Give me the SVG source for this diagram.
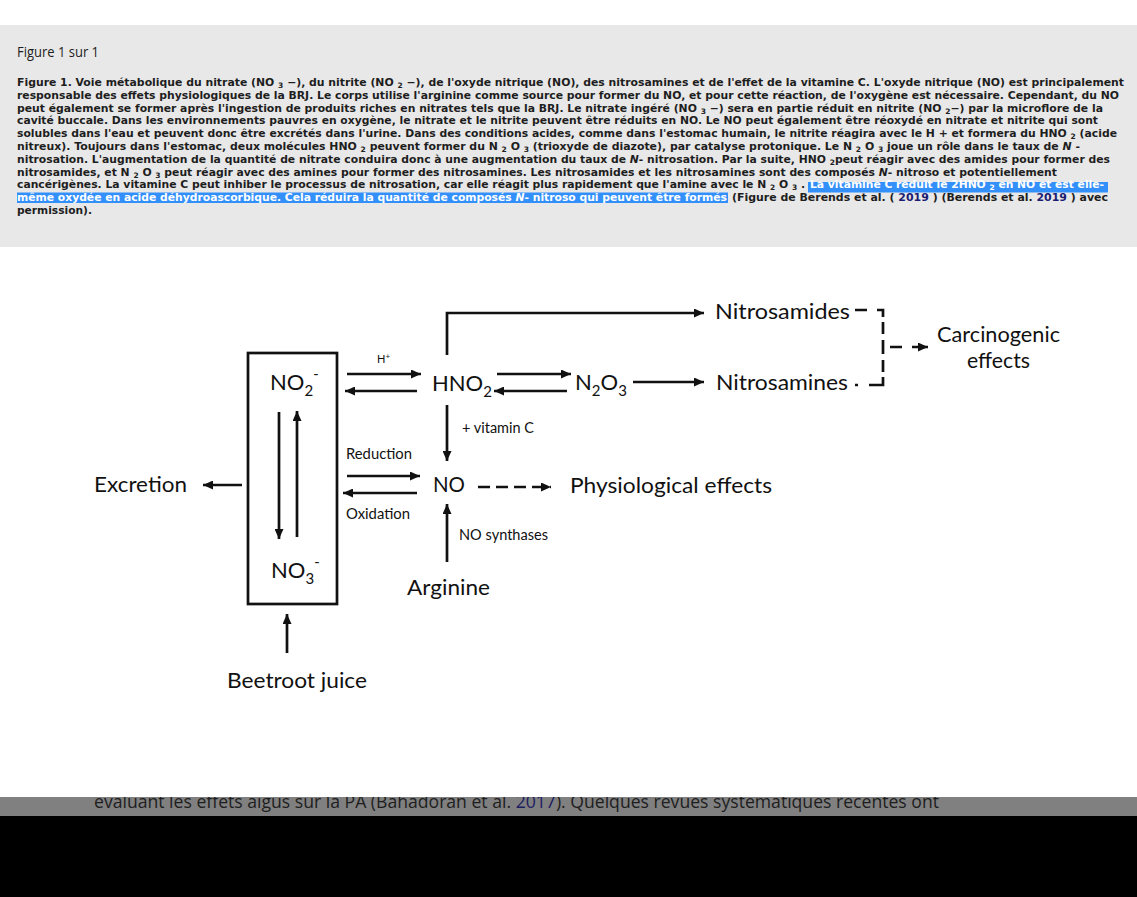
<svg xmlns="http://www.w3.org/2000/svg" width="1137" height="897" viewBox="0 0 1137 897">
<style>
.cap{font-family:"DejaVu Sans",Verdana,sans-serif;font-weight:bold;font-size:10.8px;fill:#1e1e1e}
.s{font-size:7.5px}
.hl{fill:#ffffff}
.blue{fill:#1c1c72}
.ttl{font-family:"Open Sans","Liberation Sans",sans-serif;font-size:14px;fill:#1e1e1e}
.lbl{font-family:Lato,"Open Sans",sans-serif;font-size:22px;fill:#111}
.sub{font-size:15px}
.sm{font-size:14.5px}
.tiny{font-size:11px}
.ln{stroke:#111;stroke-width:2.7;fill:none}
.dash{stroke-dasharray:12 6}
.band{font-family:"Open Sans","Liberation Sans",sans-serif;font-size:19px;fill:#1e1e1e}
</style>
<defs>
<marker id="ah" markerUnits="userSpaceOnUse" markerWidth="11" markerHeight="9" refX="10" refY="4.5" orient="auto">
<path d="M0,0 L10,4.5 L0,9 z" fill="#111"/>
</marker>
</defs>
<rect x="0" y="0" width="1137" height="897" fill="#ffffff"/>
<rect x="0" y="797" width="1137" height="19" fill="#808080"/>
<text class="band" x="94" y="808" textLength="845" lengthAdjust="spacingAndGlyphs">évaluant les effets aigus sur la PA (Bahadoran et al. <tspan fill="#1c1c60">2017</tspan>). Quelques revues systématiques récentes ont</text>
<rect x="0" y="816" width="1137" height="81" fill="#000000"/>
<rect x="0" y="247" width="1137" height="550" fill="#ffffff"/>
<g id="caption-panel">
<rect x="0" y="25" width="1137" height="222" fill="#e8e8e8"/>
<text class="ttl" x="17" y="57" textLength="82" lengthAdjust="spacingAndGlyphs">Figure 1 sur 1</text>
<rect x="808" y="182" width="300" height="10.5" fill="#3390fb"/>
<rect x="17" y="192.5" width="711" height="10.5" fill="#3390fb"/>
<text class="cap" x="17" y="86" textLength="1107" lengthAdjust="spacingAndGlyphs">Figure 1. Voie métabolique du nitrate (NO <tspan class="s" dy="2">3</tspan><tspan dy="-2"> −), du nitrite (NO </tspan><tspan class="s" dy="2">2</tspan><tspan dy="-2"> −), de l'oxyde nitrique (NO), des nitrosamines et de l'effet de la vitamine C. L'oxyde nitrique (NO) est principalement</tspan></text>
<text class="cap" x="17" y="98.8" textLength="1102" lengthAdjust="spacingAndGlyphs">responsable des effets physiologiques de la BRJ. Le corps utilise l'arginine comme source pour former du NO, et pour cette réaction, de l'oxygène est nécessaire. Cependant, du NO</text>
<text class="cap" x="17" y="111.6" textLength="1086" lengthAdjust="spacingAndGlyphs">peut également se former après l'ingestion de produits riches en nitrates tels que la BRJ. Le nitrate ingéré (NO <tspan class="s" dy="2">3</tspan><tspan dy="-2"> −) sera en partie réduit en nitrite (NO </tspan><tspan class="s" dy="2">2</tspan><tspan dy="-2">−) par la microflore de la</tspan></text>
<text class="cap" x="17" y="124.4" textLength="1081" lengthAdjust="spacingAndGlyphs">cavité buccale. Dans les environnements pauvres en oxygène, le nitrate et le nitrite peuvent être réduits en NO. Le NO peut également être réoxydé en nitrate et nitrite qui sont</text>
<text class="cap" x="17" y="137.2" textLength="1100" lengthAdjust="spacingAndGlyphs">solubles dans l'eau et peuvent donc être excrétés dans l'urine. Dans des conditions acides, comme dans l'estomac humain, le nitrite réagira avec le H + et formera du HNO <tspan class="s" dy="2">2</tspan><tspan dy="-2"> (acide</tspan></text>
<text class="cap" x="17" y="150" textLength="1063" lengthAdjust="spacingAndGlyphs">nitreux). Toujours dans l'estomac, deux molécules HNO <tspan class="s" dy="2">2</tspan><tspan dy="-2"> peuvent former du N </tspan><tspan class="s" dy="2">2</tspan><tspan dy="-2"> O </tspan><tspan class="s" dy="2">3</tspan><tspan dy="-2"> (trioxyde de diazote), par catalyse protonique. Le N </tspan><tspan class="s" dy="2">2</tspan><tspan dy="-2"> O </tspan><tspan class="s" dy="2">3</tspan><tspan dy="-2"> joue un rôle dans le taux de </tspan><tspan font-style="italic">N</tspan> -</text>
<text class="cap" x="17" y="162.8" textLength="1093" lengthAdjust="spacingAndGlyphs">nitrosation. L'augmentation de la quantité de nitrate conduira donc à une augmentation du taux de <tspan font-style="italic">N</tspan>- nitrosation. Par la suite, HNO <tspan class="s" dy="2">2</tspan><tspan dy="-2">peut réagir avec des amides pour former des</tspan></text>
<text class="cap" x="17" y="175.6" textLength="1040" lengthAdjust="spacingAndGlyphs">nitrosamides, et N <tspan class="s" dy="2">2</tspan><tspan dy="-2"> O </tspan><tspan class="s" dy="2">3</tspan><tspan dy="-2"> peut réagir avec des amines pour former des nitrosamines. Les nitrosamides et les nitrosamines sont des composés </tspan><tspan font-style="italic">N</tspan>- nitroso et potentiellement</text>
<text class="cap" x="17" y="188.4" textLength="788" lengthAdjust="spacingAndGlyphs">cancérigènes. La vitamine C peut inhiber le processus de nitrosation, car elle réagit plus rapidement que l'amine avec le N <tspan class="s" dy="2">2</tspan><tspan dy="-2"> O </tspan><tspan class="s" dy="2">3</tspan><tspan dy="-2"> .</tspan></text>
<text class="cap hl" x="810" y="188.4" textLength="294" lengthAdjust="spacingAndGlyphs">La vitamine C réduit le 2HNO <tspan class="s" dy="2">2</tspan><tspan dy="-2"> en NO et est elle-</tspan></text>
<text class="cap hl" x="17" y="201.2" textLength="710" lengthAdjust="spacingAndGlyphs">même oxydée en acide déhydroascorbique. Cela réduira la quantité de composés <tspan font-style="italic">N</tspan>- nitroso qui peuvent être formés</text>
<text class="cap" x="732" y="201.2" textLength="376" lengthAdjust="spacingAndGlyphs">(Figure de Berends et al. ( <tspan class="blue">2019</tspan> ) (Berends et al. <tspan class="blue">2019</tspan> ) avec</text>
<text class="cap" x="17" y="214" textLength="75" lengthAdjust="spacingAndGlyphs">permission).</text>
</g>
<g id="connectors">
<path class="ln" d="M347 374 H421" marker-end="url(#ah)"/>
<path class="ln" d="M417 391 H345" marker-end="url(#ah)"/>
<path class="ln" d="M497 374 H571" marker-end="url(#ah)"/>
<path class="ln" d="M567 391 H494" marker-end="url(#ah)"/>
<path class="ln" d="M633 382 H704" marker-end="url(#ah)"/>
<path class="ln" d="M447 355 V313 H704" marker-end="url(#ah)"/>
<path class="ln" d="M447 405 V461" marker-end="url(#ah)"/>
<path class="ln" d="M347 476 H420" marker-end="url(#ah)"/>
<path class="ln" d="M417 493 H343" marker-end="url(#ah)"/>
<path class="ln dash" d="M478 487 H551" marker-end="url(#ah)"/>
<path class="ln" d="M447 562 V504" marker-end="url(#ah)"/>
<path class="ln" d="M242 485 H203" marker-end="url(#ah)"/>
<path class="ln" d="M279 412 V539" marker-end="url(#ah)"/>
<path class="ln" d="M297 537 V411" marker-end="url(#ah)"/>
<path class="ln" d="M287 653 V614" marker-end="url(#ah)"/>
<path class="ln" d="M855 310 H867 M877 310 H883 V317 M883 322 V334 M883 340 V354 M883 360 V372 M883 377 V385 H869 M855 385 H858"/>
<path class="ln" d="M890 347 H902 M912 347 H928" marker-end="url(#ah)"/>
</g>
<g id="node-nitrite-nitrate-box">
<rect x="248" y="353" width="89" height="251" fill="none" stroke="#111" stroke-width="2.7"/>
</g>
<g id="node-no2">
<text class="lbl" x="270" y="390">NO<tspan class="sub" dy="6">2</tspan><tspan class="sm" dy="-17">-</tspan></text>
</g>
<g id="node-no3">
<text class="lbl" x="271" y="578">NO<tspan class="sub" dy="6">3</tspan><tspan class="sm" dy="-17">-</tspan></text>
</g>
<g id="label-h">
<text class="lbl tiny" x="377" y="363">H<tspan font-size="8" dy="-4">+</tspan></text>
</g>
<g id="node-hno2">
<text class="lbl" x="432" y="391">HNO<tspan class="sub" dy="6">2</tspan></text>
</g>
<g id="node-n2o3">
<text class="lbl" x="575" y="390">N<tspan class="sub" dy="6">2</tspan><tspan dy="-6">O</tspan><tspan class="sub" dy="6">3</tspan></text>
</g>
<g id="node-nitrosamides">
<text class="lbl" x="715" y="319" textLength="135" lengthAdjust="spacingAndGlyphs">Nitrosamides</text>
</g>
<g id="node-nitrosamines">
<text class="lbl" x="716" y="390" textLength="132" lengthAdjust="spacingAndGlyphs">Nitrosamines</text>
</g>
<g id="node-carcinogenic">
<text class="lbl" x="937" y="342" textLength="123" lengthAdjust="spacingAndGlyphs">Carcinogenic</text>
<text class="lbl" x="967" y="368" textLength="63" lengthAdjust="spacingAndGlyphs">effects</text>
</g>
<g id="label-vitc">
<text class="lbl sm" x="462" y="433" textLength="72" lengthAdjust="spacingAndGlyphs">+ vitamin C</text>
</g>
<g id="label-reduction">
<text class="lbl sm" x="346" y="459" textLength="66" lengthAdjust="spacingAndGlyphs">Reduction</text>
</g>
<g id="label-oxidation">
<text class="lbl sm" x="346" y="519" textLength="64" lengthAdjust="spacingAndGlyphs">Oxidation</text>
</g>
<g id="node-no">
<text class="lbl" x="433" y="492" textLength="32" lengthAdjust="spacingAndGlyphs">NO</text>
</g>
<g id="node-physiological">
<text class="lbl" x="570" y="493" textLength="202" lengthAdjust="spacingAndGlyphs">Physiological effects</text>
</g>
<g id="label-nosynthases">
<text class="lbl sm" x="459" y="540" textLength="89" lengthAdjust="spacingAndGlyphs">NO synthases</text>
</g>
<g id="node-arginine">
<text class="lbl" x="407" y="595" textLength="83" lengthAdjust="spacingAndGlyphs">Arginine</text>
</g>
<g id="node-excretion">
<text class="lbl" x="94" y="492" textLength="93" lengthAdjust="spacingAndGlyphs">Excretion</text>
</g>
<g id="node-beetroot">
<text class="lbl" x="227" y="688" textLength="140" lengthAdjust="spacingAndGlyphs">Beetroot juice</text>
</g>
</svg>
